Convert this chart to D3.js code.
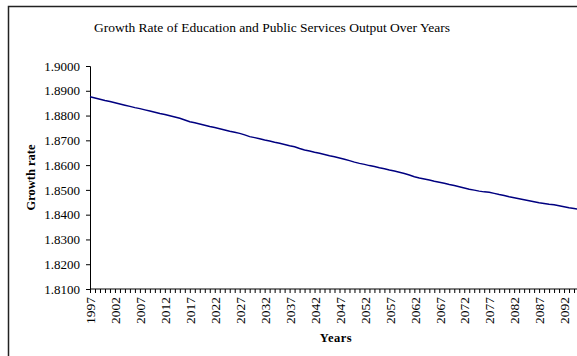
<!DOCTYPE html>
<html>
<head>
<meta charset="utf-8">
<script src="https://cdn.jsdelivr.net/npm/d3@7"></script>
<style>
  body { margin: 0; background: #fff; }
  svg { display: block; }
</style>
</head>
<body>
<svg id="chart"></svg>
<script>
const TITLE = 'Growth Rate of Education and Public Services Output Over Years'
const X_LABEL = 'Years'
const Y_LABEL = 'Growth rate'

const startYear = 1997
// one value per year, 1997 .. 2095
const growthRate = [
  1.8876, 1.8871, 1.8866, 1.8861, 1.8857, 1.8852, 1.8847, 1.8842, 1.8837, 1.8832,
  1.8828, 1.8823, 1.8818, 1.8813, 1.8808, 1.8804, 1.8799, 1.8794, 1.8789, 1.8782,
  1.8775, 1.8771, 1.8766, 1.8761, 1.8756, 1.8752, 1.8747, 1.8742, 1.8737, 1.8733,
  1.8728, 1.8722, 1.8715, 1.8711, 1.8706, 1.8701, 1.8697, 1.8692, 1.8688, 1.8683,
  1.8678, 1.8674, 1.8667, 1.8661, 1.8657, 1.8652, 1.8648, 1.8643, 1.8638, 1.8634,
  1.8629, 1.8624, 1.8618, 1.8612, 1.8607, 1.8603, 1.8598, 1.8594, 1.8589, 1.8585,
  1.8580, 1.8576, 1.8571, 1.8566, 1.8560, 1.8553, 1.8548, 1.8544, 1.8540, 1.8535,
  1.8531, 1.8527, 1.8522, 1.8518, 1.8513, 1.8508, 1.8503, 1.8499, 1.8495, 1.8492,
  1.8490, 1.8486, 1.8481, 1.8477, 1.8472, 1.8468, 1.8464, 1.8460, 1.8456, 1.8452,
  1.8448, 1.8445, 1.8442, 1.8440, 1.8436, 1.8432, 1.8428, 1.8425, 1.8421
]
const years = growthRate.map((_, i) => startYear + i)
const yTicks = [1.81, 1.82, 1.83, 1.84, 1.85, 1.86, 1.87, 1.88, 1.89, 1.90]
const xLabelYears = years.filter(y => (y - startYear) % 5 === 0)

const width = 577
const height = 356
const plot = { left: 90, top: 66, bottom: 289 }
const yearStep = 4.99

const svg = d3.select('#chart')
  .attr('width', width)
  .attr('height', height)
  .style('font-family', '"Liberation Serif", "Times New Roman", serif')

// outer chart frame, cropped on the right and bottom like the reference
svg.append('rect')
  .attr('x', 8.5)
  .attr('y', 6.5)
  .attr('width', width + 20)
  .attr('height', height + 20)
  .attr('fill', 'none')
  .attr('stroke', '#222')
  .attr('stroke-width', 1.5)

const x = d3.scaleLinear()
  .domain([startYear, startYear + 100])
  .range([plot.left, plot.left + 100 * yearStep])

const y = d3.scaleLinear()
  .domain([1.81, 1.90])
  .range([plot.bottom, plot.top])

svg.append('text')
  .attr('x', 272)
  .attr('y', 32)
  .attr('text-anchor', 'middle')
  .attr('font-size', '13.5px')
  .attr('fill', '#000')
  .text(TITLE)

const yAxis = svg.append('g')
  .attr('transform', `translate(${plot.left},0)`)
  .call(d3.axisLeft(y)
    .tickValues(yTicks)
    .tickSize(4)
    .tickPadding(6)
    .tickFormat(d3.format('.4f')))

yAxis.selectAll('text')
  .attr('font-size', '13px')
  .attr('font-family', '"Liberation Serif", serif')
  .attr('fill', '#000')

const xAxis = svg.append('g')
  .attr('transform', `translate(0,${plot.bottom})`)
  .call(d3.axisBottom(x)
    .tickValues(years)
    .tickSize(4)
    .tickFormat(d => xLabelYears.includes(d) ? d : ''))

// the axis line runs on past the right edge, as in the reference
xAxis.select('.domain')
  .attr('d', `M${plot.left},0H${width + 10}`)

xAxis.selectAll('text')
  .attr('font-size', '13.5px')
  .attr('font-family', '"Liberation Serif", serif')
  .attr('fill', '#000')
  .attr('text-anchor', 'end')
  .attr('transform', 'rotate(-90)')
  .attr('x', -8)
  .attr('y', 0)
  .attr('dy', '0.35em')

svg.selectAll('.domain, .tick line')
  .attr('stroke', '#000')
  .attr('stroke-width', 1)

const line = d3.line()
  .x((d, i) => x(years[i]))
  .y(d => y(d))

svg.append('path')
  .datum(growthRate)
  .attr('fill', 'none')
  .attr('stroke', '#000080')
  .attr('stroke-width', 1.5)
  .attr('d', line)

svg.append('text')
  .attr('x', 336)
  .attr('y', 342)
  .attr('text-anchor', 'middle')
  .attr('font-size', '12.5px')
  .attr('font-weight', 'bold')
  .attr('letter-spacing', '0.5px')
  .text(X_LABEL)

svg.append('text')
  .attr('transform', `translate(35,${(plot.top + plot.bottom) / 2}) rotate(-90)`)
  .attr('text-anchor', 'middle')
  .attr('font-size', '12.5px')
  .attr('font-weight', 'bold')
  .text(Y_LABEL)
</script>
</body>
</html>
